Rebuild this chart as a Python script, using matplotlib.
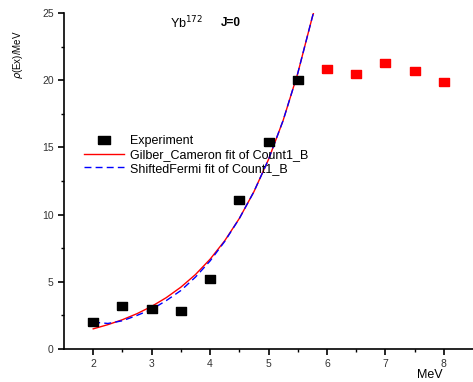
import matplotlib
matplotlib.use("Agg")
import matplotlib.pyplot as plt
from matplotlib.lines import Line2D

plt.rcParams['font.family'] = ['Liberation Sans', 'DejaVu Sans']

# Experimental data
exp_x = [2.0, 2.5, 3.0, 3.5, 4.0, 4.5, 5.0, 5.5]
exp_y = [2.0, 3.2, 3.0, 2.85, 5.2, 11.1, 15.4, 20.0]
ext_x = [6.0, 6.5, 7.0, 7.5, 8.0]
ext_y = [20.8, 20.45, 21.3, 20.65, 19.85]

# Fit curves
gc_x = [2.0, 2.25, 2.5, 2.75, 3.0, 3.25, 3.5, 3.75, 4.0, 4.25, 4.5, 4.75, 5.0, 5.25, 5.5, 5.75, 5.77]
gc_y = [1.50, 1.81, 2.18, 2.63, 3.17, 3.82, 4.60, 5.54, 6.68, 8.05, 9.71, 11.70, 14.10, 17.0, 20.5, 24.7, 25.0]
sf_x = [2.0, 2.25, 2.5, 2.75, 3.0, 3.25, 3.5, 3.75, 4.0, 4.25, 4.5, 4.75, 5.0, 5.25, 5.5, 5.75, 5.77]
sf_y = [2.0, 1.9, 2.1, 2.5, 2.95, 3.6, 4.35, 5.35, 6.55, 8.0, 9.7, 11.7, 14.1, 17.0, 20.5, 24.7, 25.0]

x_ticks = [2, 3, 4, 5, 6, 7, 8]
y_ticks = [0, 5, 10, 15, 20, 25]

W, H = 473, 382
fig = plt.figure(figsize=(W / 100, H / 100), dpi=100)
ax = fig.add_axes([64 / W, 1 - 349 / H, (473 - 64) / W, (349 - 13) / H])

rect = [(-1.45, -1), (1.45, -1), (1.45, 1), (-1.45, 1), (-1.45, -1)]

ax.plot(gc_x, gc_y, color='#ff0000', lw=1.0, zorder=3)
ax.plot(sf_x, sf_y, color='#0000ff', lw=1.0, dashes=(5, 3), zorder=4)
ax.plot(exp_x, exp_y, linestyle='none', marker=rect, markersize=7.5, color='black', zorder=5)
ax.plot(ext_x, ext_y, linestyle='none', marker=rect, markersize=7.5, color='#ff0000', zorder=5)

ax.set_xlim(1.5, 8.5)
ax.set_ylim(0, 25)
ax.set_xticks(x_ticks)
ax.set_yticks(y_ticks)
ax.set_xticks([1.5 + 0.5 * i for i in range(1, 14) if (1.5 + 0.5 * i) % 1 != 0], minor=True)
ax.set_yticks([2.5, 7.5, 12.5, 17.5, 22.5], minor=True)
ax.tick_params(axis='both', which='major', direction='out', length=4, width=1.2,
               labelsize=7.5, labelcolor='#333333')
ax.tick_params(axis='both', which='minor', direction='out', length=2.5, width=1.0)
ax.spines['top'].set_visible(False)
ax.spines['right'].set_visible(False)
ax.spines['left'].set_linewidth(1.2)
ax.spines['bottom'].set_linewidth(1.2)

fig.text(18 / W, 1 - 55 / H, r'$\rho$(Ex)/MeV', rotation=90, fontsize=7, ha='center', va='center')
fig.text(430 / W, 1 - 375 / H, 'MeV', fontsize=9, ha='center', va='center')
fig.text(170 / W, 1 - 23 / H, r'Yb$^{172}$', fontsize=9, ha='left', va='center')
fig.text(221 / W, 1 - 23 / H, 'J=0', fontsize=8.5, fontweight='bold', ha='left', va='center')

handles = [
    Line2D([], [], linestyle='none', marker=rect, markersize=8.5, color='black'),
    Line2D([], [], color='#ff0000', lw=1.0),
    Line2D([], [], color='#0000ff', lw=1.0, dashes=(5, 3)),
]
labels = ['Experiment', 'Gilber_Cameron fit of Count1_B', 'ShiftedFermi fit of Count1_B']
ax.legend(handles, labels, loc='upper left',
          bbox_to_anchor=((84 - 64) / (473 - 64), (349 - 135) / (349 - 13)),
          frameon=False, fontsize=9, handlelength=3.2, handletextpad=0.5,
          labelspacing=0.15, borderpad=0, borderaxespad=0)

fig.savefig('out.png', dpi=100)
